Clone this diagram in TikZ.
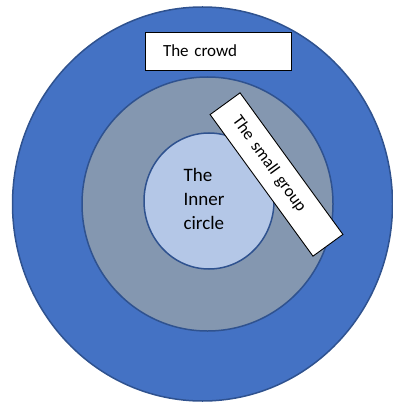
\documentclass[tikz,border=0pt]{standalone}
\usepackage{fontspec}
\setmainfont{Carlito}
\definecolor{outerblue}{HTML}{4472C4}
\definecolor{midgray}{HTML}{8497B0}
\definecolor{innerblue}{HTML}{B4C7E7}
\definecolor{edgeblue}{HTML}{2F528F}
\tikzset{
  ring/.style={draw=edgeblue, line width=1.5pt},
  labelbox/.style={draw=black, fill=white, line width=0.9pt, rectangle,
    inner xsep=18pt, inner ysep=0pt, align=left, font=\fontsize{17}{20}\selectfont}
}
\begin{document}
\begin{tikzpicture}[x=1pt,y=-1pt]
\useasboundingbox (0,0) rectangle (392,403);
\draw[ring, fill=outerblue] (202.5,204) ellipse [x radius=190, y radius=197];
\draw[ring, fill=midgray] (207.5,204) ellipse [x radius=125.5, y radius=127];
\draw[ring, fill=innerblue] (209,201) ellipse [x radius=65, y radius=68];
\node[align=left, font=\fontsize{19}{24}\selectfont] (inner) at (204,199) {The\\Inner\\circle};
\node[labelbox, text width=110pt, minimum height=38pt] (crowd) at (218,51) {The crowd};
\node[labelbox, text width=139pt, minimum height=37pt, rotate=-54] (small) at (276.5,174.5) {The small group};
\end{tikzpicture}
\end{document}
